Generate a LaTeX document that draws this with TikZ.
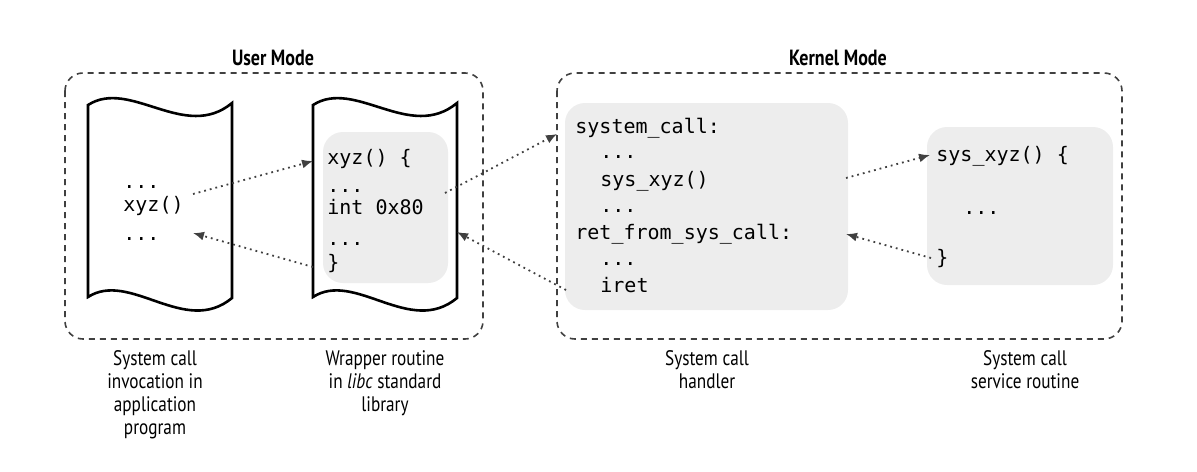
\documentclass[tikz,border=0pt]{standalone}
\usepackage{fontspec}
\setmainfont{PT Sans}
\setmonofont{DejaVu Sans Mono}
\newfontfamily\capfont[FakeStretch=0.82]{PT Sans}
\usetikzlibrary{arrows.meta}

\tikzset{
  modebox/.style={draw=black!75, line width=0.8pt, dash pattern=on 3pt off 2.5pt, rounded corners=9pt},
  codebox/.style={fill=black!7, rounded corners=10pt},
  docpage/.style={draw=black, line width=1.3pt, fill=white},
  code/.style={font=\ttfamily\fontsize{10}{13}\selectfont, anchor=base west, inner sep=0pt},
  caption/.style={font=\capfont\fontsize{10.5}{11.5}\selectfont, align=center, anchor=north, inner sep=0pt},
  title/.style={font=\capfont\bfseries\fontsize{11}{13}\selectfont},
  call/.style={-{Latex[length=5.5pt,width=4.5pt]}, dotted, line width=0.9pt, black!75},
}

\begin{document}
\begin{tikzpicture}[x=0.5pt, y=-0.5pt]
    \useasboundingbox (0,0) rectangle (1197,471);

    % Mode boxes
    \draw[modebox] (65,73) rectangle (483,339);
    \draw[modebox] (557,73) rectangle (1122,339);
    \node[title] (usermode) at (273,58) {User Mode};
    \node[title] (kernelmode) at (838,58) {Kernel Mode};

    % Pages
    \draw[docpage] (88,105) .. controls (130,78) and (185,142) .. (232,103) -- (232,298)
        .. controls (185,337) and (130,270) .. (88,297) -- cycle;
    \draw[docpage] (313,105) .. controls (355,78) and (410,142) .. (457,103) -- (457,298)
        .. controls (410,337) and (355,270) .. (313,297) -- cycle;

    % Code boxes
    \fill[codebox] (323,132) rectangle (448,283);
    \fill[codebox] (565,103) rectangle (848,310);
    \fill[codebox] (927,127) rectangle (1113,285);

    % Nodes
    \node[code] (appdots1) at (123,188) {...};
    \node[code] (callxyz) at (123,211) {xyz()};
    \node[code] (appdots2) at (123,240) {...};

    \node[code] (wrapstart) at (327,164) {xyz() \{};
    \node[code] (wrapdots1) at (327,192) {...};
    \node[code] (wrapint) at (327,214) {int 0x80};
    \node[code] (wrapdots2) at (327,245) {...};
    \node[code] (wrapend) at (327,269) {\}};

    \node[code] (syscall) at (575,133) {system\_call:};
    \node[code] (hdots1) at (600,158) {...};
    \node[code] (sysxyz) at (600,186) {sys\_xyz()};
    \node[code] (hdots2) at (600,212) {...};
    \node[code] (retfrom) at (575,239) {ret\_from\_sys\_call:};
    \node[code] (hdots3) at (600,265) {...};
    \node[code] (iret) at (600,292) {iret};

    \node[code] (svcstart) at (936,161) {sys\_xyz() \{};
    \node[code] (svcdots) at (963,214) {...};
    \node[code] (svcend) at (936,264) {\}};

    \node[caption] (appcap) at (155,350) {System call\\invocation in\\application\\program};
    \node[caption] (wrapcap) at (385,350) {Wrapper routine\\in \textit{libc} standard\\library};
    \node[caption] (handlercap) at (707,350) {System call\\handler};
    \node[caption] (servicecap) at (1025,350) {System call\\service routine};

    % Edges
    \coordinate (callout) at (193,194);
    \coordinate (callback) at (193,233);
    \coordinate (wrapin) at (313,161);
    \coordinate (wrapout) at (445,193);
    \coordinate (wrapretout) at (313,267);
    \coordinate (wrapback) at (457,232);
    \coordinate (handlerin) at (557,134);
    \coordinate (iretout) at (566,290);
    \coordinate (handlerout) at (846,178);
    \coordinate (handlerback) at (846,234);
    \coordinate (svcin) at (930,155);
    \coordinate (svcout) at (931,258);
    \draw[call] (callout) -- (wrapin);
    \draw[call] (wrapretout) -- (callback);
    \draw[call] (wrapout) -- (handlerin);
    \draw[call] (iretout) -- (wrapback);
    \draw[call] (handlerout) -- (svcin);
    \draw[call] (svcout) -- (handlerback);

\end{tikzpicture}
\end{document}
